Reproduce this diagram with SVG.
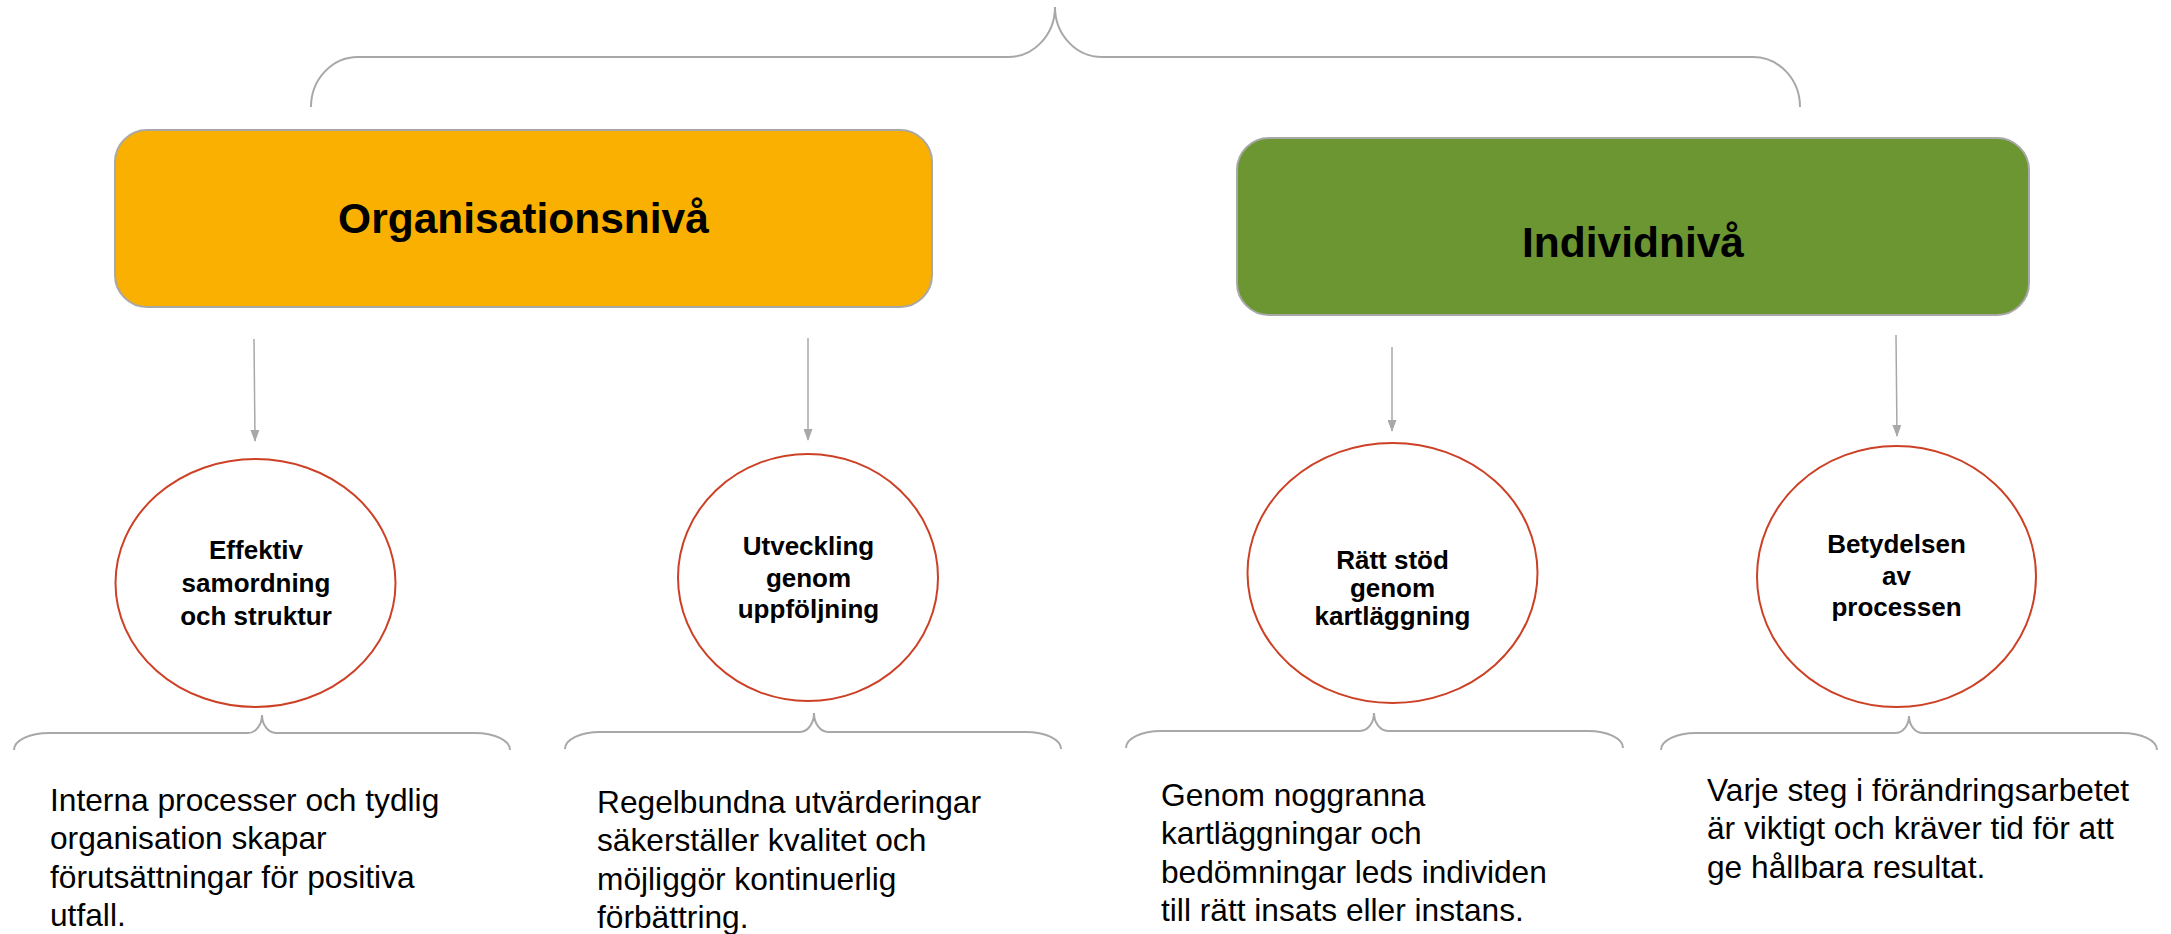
<svg xmlns="http://www.w3.org/2000/svg" width="2171" height="934" viewBox="0 0 2171 934">
<style>
.box{stroke:#A8A8A8;stroke-width:2}
.hdr{font-family:"Liberation Sans",Arial,sans-serif;font-weight:bold;font-size:42.5px;fill:#000;text-anchor:middle}
.ell{fill:#FFFFFF;stroke:#CC4125;stroke-width:2}
.lbl{font-family:"Liberation Sans",Arial,sans-serif;font-weight:bold;font-size:26px;fill:#000;text-anchor:middle}
.body{font-family:"Liberation Sans",Arial,sans-serif;font-size:31.7px;fill:#000}
.brace{fill:none;stroke:#A8A8A8;stroke-width:2}
.arrow{fill:none;stroke:#A8A8A8;stroke-width:1.5}
</style>
<defs>
<marker id="ah" markerUnits="userSpaceOnUse" markerWidth="12" markerHeight="9" refX="11" refY="4.5" orient="auto">
<path d="M0,0 L12,4.5 L0,9 z" fill="#A8A8A8"/>
</marker>
</defs>
<rect width="2171" height="934" fill="#FFFFFF"/>
<g id="connectors">
<path class="brace" d="M311,107 C311,79.4 332,57 358,57 L1008,57 C1034,57 1055,34.6 1055,7 C1055,34.6 1076,57 1102,57 L1753,57 C1779,57 1800,79.4 1800,107"/>
<path class="arrow" marker-end="url(#ah)" d="M254,339 L255,441"/>
<path class="arrow" marker-end="url(#ah)" d="M808,338 L808,440"/>
<path class="arrow" marker-end="url(#ah)" d="M1392,347 L1392,431"/>
<path class="arrow" marker-end="url(#ah)" d="M1896,335 L1897,436"/>
<path class="brace" d="M14,750 C14,740.6 29.7,733 49,733 L248,733 C255.7,733 262,724.9 262,715 C262,724.9 268.3,733 276,733 L475,733 C494.3,733 510,740.6 510,750"/>
<path class="brace" d="M565,749 C565,739.6 580.7,732 600,732 L800,732 C807.7,732 814,723.5 814,713 C814,723.5 820.3,732 828,732 L1026,732 C1045.3,732 1061,739.6 1061,749"/>
<path class="brace" d="M1126,748 C1126,738.6 1141.7,731 1161,731 L1360,731 C1367.7,731 1374,722.9 1374,713 C1374,722.9 1380.3,731 1388,731 L1588,731 C1607.3,731 1623,738.6 1623,748"/>
<path class="brace" d="M1661,750 C1661,740.6 1676.7,733 1696,733 L1895,733 C1902.7,733 1909,725.4 1909,716 C1909,725.4 1915.3,733 1923,733 L2122,733 C2141.3,733 2157,740.6 2157,750"/>
</g>
<g id="org">
<rect class="box" x="115" y="130" width="817" height="177" rx="32" ry="32" fill="#F9B000"/>
<text class="hdr" x="523.5" y="233">Organisationsnivå</text>
</g>
<g id="ind">
<rect class="box" x="1237" y="138" width="792" height="177" rx="32" ry="32" fill="#6B9632"/>
<text class="hdr" x="1633" y="257">Individnivå</text>
</g>
<g id="e1">
<ellipse class="ell" cx="255.5" cy="583" rx="140" ry="124"/>
<text class="lbl" x="256" y="559">Effektiv</text>
<text class="lbl" x="256" y="592">samordning</text>
<text class="lbl" x="256" y="625">och struktur</text>
</g>
<g id="e2">
<ellipse class="ell" cx="808" cy="577.5" rx="130" ry="123.5"/>
<text class="lbl" x="808.5" y="555">Utveckling</text>
<text class="lbl" x="808.5" y="587">genom</text>
<text class="lbl" x="808.5" y="618">uppföljning</text>
</g>
<g id="e3">
<ellipse class="ell" cx="1392.5" cy="573" rx="145" ry="130"/>
<text class="lbl" x="1392.5" y="569">Rätt stöd</text>
<text class="lbl" x="1392.5" y="597">genom</text>
<text class="lbl" x="1392.5" y="625">kartläggning</text>
</g>
<g id="e4">
<ellipse class="ell" cx="1896.5" cy="576.5" rx="139.5" ry="130.5"/>
<text class="lbl" x="1896.5" y="553">Betydelsen</text>
<text class="lbl" x="1896.5" y="585">av</text>
<text class="lbl" x="1896.5" y="616">processen</text>
</g>
<g id="t1">
<text class="body" x="50" y="811">Interna processer och tydlig</text>
<text class="body" x="50" y="849.3">organisation skapar</text>
<text class="body" x="50" y="887.6">förutsättningar för positiva</text>
<text class="body" x="50" y="925.9">utfall.</text>
</g>
<g id="t2">
<text class="body" x="597" y="813">Regelbundna utvärderingar</text>
<text class="body" x="597" y="851.3">säkerställer kvalitet och</text>
<text class="body" x="597" y="889.6">möjliggör kontinuerlig</text>
<text class="body" x="597" y="927.9">förbättring.</text>
</g>
<g id="t3">
<text class="body" x="1161" y="806">Genom noggranna</text>
<text class="body" x="1161" y="844.3">kartläggningar och</text>
<text class="body" x="1161" y="882.6">bedömningar leds individen</text>
<text class="body" x="1161" y="920.9">till rätt insats eller instans.</text>
</g>
<g id="t4">
<text class="body" x="1707" y="801">Varje steg i förändringsarbetet</text>
<text class="body" x="1707" y="839.3">är viktigt och kräver tid för att</text>
<text class="body" x="1707" y="877.6">ge hållbara resultat.</text>
</g>
</svg>
